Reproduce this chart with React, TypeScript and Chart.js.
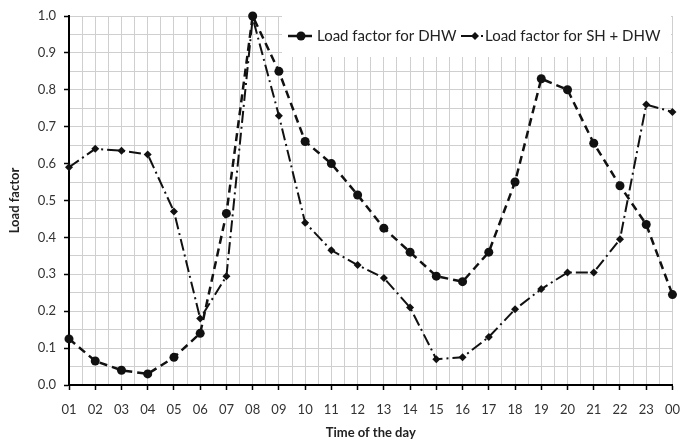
import React, { useEffect, useRef } from "react";
import { Chart, registerables } from "chart.js";

Chart.register(...registerables);

const hours = ["01","02","03","04","05","06","07","08","09","10","11","12","13","14","15","16","17","18","19","20","21","22","23","00"];
const dhwLoad = [0.125,0.065,0.04,0.03,0.075,0.14,0.465,1.0,0.85,0.66,0.60,0.515,0.425,0.36,0.295,0.28,0.36,0.55,0.83,0.80,0.655,0.54,0.435,0.245];
const shDhwLoad = [0.59,0.64,0.635,0.625,0.47,0.18,0.295,0.995,0.73,0.44,0.365,0.325,0.29,0.21,0.07,0.075,0.13,0.205,0.26,0.305,0.305,0.395,0.76,0.74];
const seriesNames = ["Load factor for DHW", "Load factor for SH + DHW"];
const xTitle = "Time of the day";
const yTitle = "Load factor";

const FONT = "Lato, 'Liberation Sans', sans-serif";
const INK = "#111";

const legendPlugin = {
  id: "insideLegend",
  beforeDatasetsDraw(chart: any) {
    const ctx = chart.ctx;
    ctx.save();
    ctx.fillStyle = "#fff";
    ctx.fillRect(282, 8, 389, 49);
    ctx.restore();
  },
  afterDatasetsDraw(chart: any) {
    const ctx = chart.ctx;
    const y = 36;
    ctx.save();
    ctx.strokeStyle = INK;
    ctx.fillStyle = INK;
    ctx.lineWidth = 2.5;
    ctx.beginPath();
    ctx.moveTo(288, y);
    ctx.lineTo(312, y);
    ctx.stroke();
    ctx.beginPath();
    ctx.arc(301, y, 4.5, 0, Math.PI * 2);
    ctx.fill();
    ctx.lineWidth = 2;
    ctx.beginPath();
    ctx.moveTo(461, y);
    ctx.lineTo(477, y);
    ctx.stroke();
    ctx.beginPath();
    ctx.moveTo(475, y - 4);
    ctx.lineTo(479, y);
    ctx.lineTo(475, y + 4);
    ctx.lineTo(471, y);
    ctx.closePath();
    ctx.fill();
    ctx.fillRect(481, y - 1, 2, 2);
    ctx.font = "15px " + FONT;
    ctx.textBaseline = "middle";
    ctx.textAlign = "left";
    ctx.fillStyle = "#222";
    ctx.fillText(seriesNames[0], 317, y);
    ctx.fillText(seriesNames[1], 485, y);
    ctx.restore();
  },
};

export default function App() {
  const ref = useRef<HTMLCanvasElement>(null);
  useEffect(() => {
    if (!ref.current) return;
    const isMajorX = (v: number) => Math.abs(v - Math.round(v)) < 1e-6;
    const isMajorY = (v: number) => Math.abs(v * 10 - Math.round(v * 10)) < 1e-6;
    const chart = new Chart(ref.current, {
      type: "line",
      data: {
        datasets: [
          {
            label: seriesNames[0],
            data: dhwLoad.map((v, i) => ({ x: i + 1, y: v })),
            borderColor: INK,
            backgroundColor: INK,
            borderWidth: 2.5,
            borderDash: [8, 5],
            pointStyle: "circle",
            pointRadius: 4.5,
            pointBorderWidth: 0,
            tension: 0,
            clip: false,
          },
          {
            label: seriesNames[1],
            data: shDhwLoad.map((v, i) => ({ x: i + 1, y: v })),
            borderColor: INK,
            backgroundColor: INK,
            borderWidth: 2,
            borderDash: [12, 4, 2, 4],
            pointStyle: "rectRot",
            pointRadius: 4,
            pointBorderWidth: 0,
            tension: 0,
            clip: false,
          },
        ],
      },
      options: {
        responsive: false,
        animation: false,
        layout: { padding: { left: 0, right: 19, top: 16, bottom: 0 } },
        plugins: { legend: { display: false }, tooltip: { enabled: false } },
        scales: {
          x: {
            type: "linear",
            min: 1,
            max: 24,
            afterFit: (s: any) => { s.height = 59; },
            ticks: {
              stepSize: 0.5,
              autoSkip: false,
              maxRotation: 0,
              padding: 12,
              color: "#333",
              font: { family: FONT, size: 13 },
              callback: (v: any) => (isMajorX(Number(v)) ? hours[Math.round(Number(v)) - 1] : ""),
            },
            grid: {
              color: "#cfcfcf",
              lineWidth: 1,
              tickLength: 5,
              tickColor: (c: any) => (c.tick && isMajorX(c.tick.value) ? "#000" : "rgba(0,0,0,0)"),
              tickWidth: 1.5,
            },
            border: { color: "#000", width: 2 },
            title: {
              display: true,
              text: xTitle,
              color: "#222",
              font: { family: FONT, size: 13, weight: "bold" },
              padding: { top: 0, bottom: 3 },
            },
          },
          y: {
            min: 0,
            max: 1,
            afterFit: (s: any) => { s.width = 69; },
            ticks: {
              stepSize: 0.05,
              autoSkip: false,
              padding: 8,
              color: "#333",
              font: { family: FONT, size: 13 },
              callback: (v: any) => (isMajorY(Number(v)) ? Number(v).toFixed(1) : ""),
            },
            grid: {
              color: "#cfcfcf",
              lineWidth: 1,
              tickLength: 5,
              tickColor: (c: any) => (c.tick && isMajorY(c.tick.value) ? "#000" : "rgba(0,0,0,0)"),
              tickWidth: 1.5,
            },
            border: { color: "#000", width: 2 },
            title: {
              display: true,
              text: yTitle,
              color: "#222",
              font: { family: FONT, size: 13, weight: "bold" },
              padding: { top: 7, bottom: 0 },
            },
          },
        },
      },
      plugins: [legendPlugin],
    } as any);
    return () => chart.destroy();
  }, []);
  return (
    <div style={{ position: "fixed", left: 0, top: 0, width: 692, height: 444, background: "#fff" }}>
      <canvas ref={ref} width={692} height={444} />
    </div>
  );
}
